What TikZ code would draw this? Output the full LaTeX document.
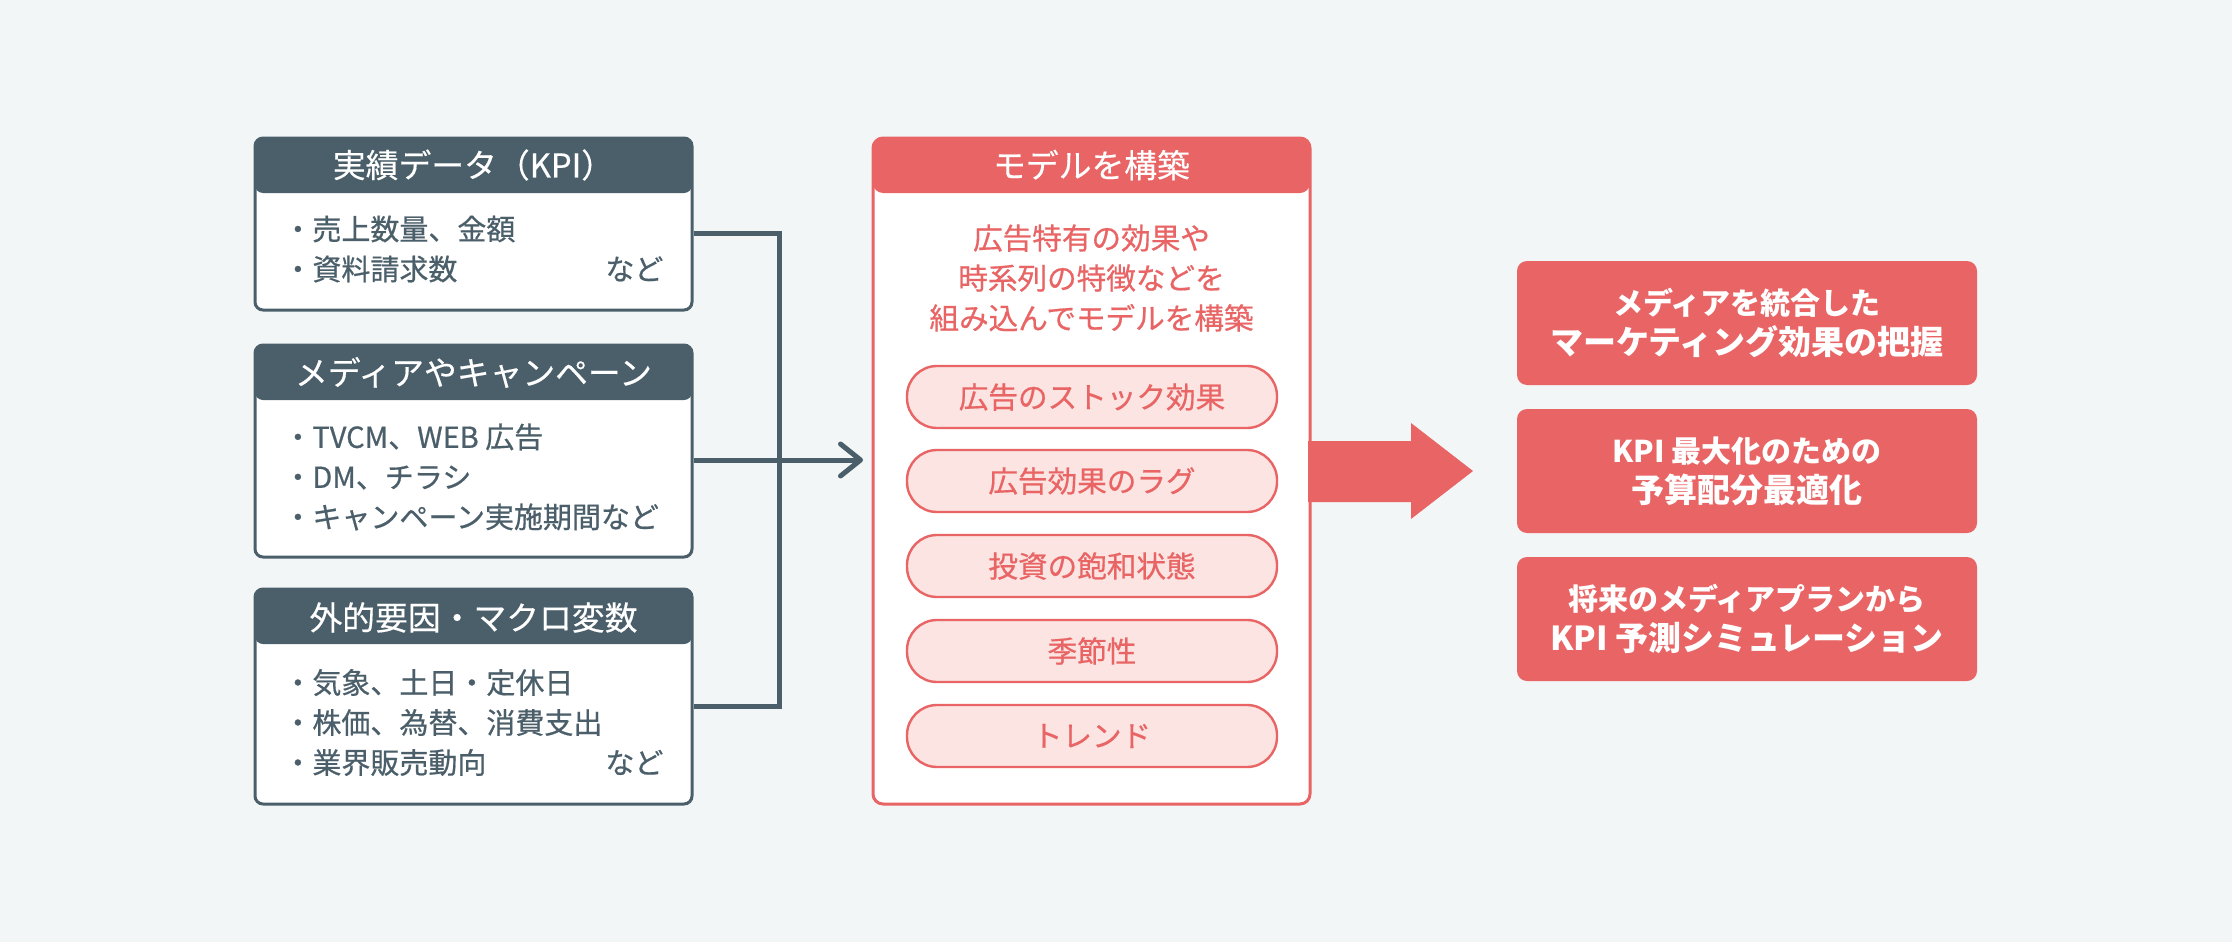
\documentclass[tikz,border=0pt]{standalone}
\usepackage{fontspec}
\setmainfont{Noto Sans CJK JP}
\newfontfamily\medfont{Noto Sans CJK JP}[FakeBold=0.6]
\newfontfamily\hdrfont{Noto Sans CJK JP}[FakeBold=0.4]
\usetikzlibrary{arrows.meta}
\definecolor{bgc}{HTML}{F3F6F7}
\definecolor{dk}{HTML}{4B5F6A}
\definecolor{rd}{HTML}{E96464}
\definecolor{pk}{HTML}{FBE4E1}
\newcommand{\bigline}[1]{{\fontsize{16.5pt}{20pt}\selectfont #1}}
\tikzset{
  hdrfill/.style={path picture={\fill[#1] (path picture bounding box.north west) rectangle ([yshift=-27.5pt]path picture bounding box.north east);}},
  lbox/.style={draw=dk, line width=1.5pt, fill=white, rounded corners=4pt, inner sep=0pt, hdrfill=dk},
  mbox/.style={draw=rd, line width=1.5pt, fill=white, rounded corners=5pt, inner sep=0pt, hdrfill=rd},
  hdrtext/.style={text=white, font=\hdrfont\fontsize{16.4pt}{20pt}\selectfont, inner sep=0pt},
  bodytext/.style={text=dk, font=\medfont\fontsize{14.5pt}{20pt}\selectfont, align=left, inner sep=0pt, anchor=west},
  redtext/.style={text=rd, font=\medfont\fontsize{14.8pt}{20pt}\selectfont, align=center, inner sep=0pt},
  pill/.style={draw=rd, line width=1.2pt, fill=pk, rounded corners=15pt, minimum width=185pt, minimum height=31pt, inner sep=0pt, text=rd, font=\medfont\fontsize{14.8pt}{20pt}\selectfont},
  rbox/.style={fill=rd, rounded corners=5pt, minimum width=230pt, minimum height=62pt, inner sep=0pt, text=white, align=center, font=\fontsize{15pt}{20pt}\selectfont\bfseries},
  conn/.style={draw=dk, line width=2.5pt, line join=miter}
}
\begin{document}
\begin{tikzpicture}[x=0.5pt,y=-0.5pt]
\fill[bgc] (0,0) rectangle (2232,942);
\useasboundingbox (0,0) rectangle (2232,942);
% left boxes
\node[lbox, minimum width=218.5pt, minimum height=86pt] (b1) at (473.5,224) {};
\node[lbox, minimum width=218.5pt, minimum height=106pt] (b2) at (473.5,451) {};
\node[lbox, minimum width=218.5pt, minimum height=107.5pt] (b3) at (473.5,696.5) {};
\node[hdrtext] (h1) at (473.5,165) {実績データ（KPI）};
\node[hdrtext] (h2) at (473.5,372.5) {メディアやキャンペーン};
\node[hdrtext] (h3) at (473.5,617.5) {外的要因・マクロ変数};
\node[bodytext] (t1) at (283,249) {・売上数量、金額\\\makebox[190pt][l]{・資料請求数\hfill など}};
\node[bodytext] (t2) at (283,477) {・TVCM、WEB 広告\\・DM、チラシ\\・キャンペーン実施期間など};
\node[bodytext] (t3) at (283,722.5) {・気象、土日・定休日\\・株価、為替、消費支出\\\makebox[190pt][l]{・業界販売動向\hfill など}};
% connectors
\coordinate (j1) at (779,233);
\coordinate (j2) at (779,460);
\coordinate (j3) at (779,706);
\coordinate (tip) at (863,460);
\draw[conn] (b1.east |- j1) -- (j1) -- (j3) -- (b3.east |- j3);
\draw[conn, -{Straight Barb[length=10pt, width=16pt, line cap=round, line join=round]}] (b2.east |- j2) -- (tip);
% middle box
\node[mbox, minimum width=218.5pt, minimum height=333pt] (m) at (1091.5,471) {};
\node[hdrtext] (mh) at (1091.5,165) {モデルを構築};
\node[redtext] (mt) at (1091.5,278) {広告特有の効果や\\時系列の特徴などを\\組み込んでモデルを構築};
\node[pill] (p1) at (1092,397) {広告のストック効果};
\node[pill] (p2) at (1092,481) {広告効果のラグ};
\node[pill] (p3) at (1092,566) {投資の飽和状態};
\node[pill] (p4) at (1092,651) {季節性};
\node[pill] (p5) at (1092,736) {トレンド};
% big arrow
\fill[rd] (1308,441) -- (1411,441) -- (1411,423) -- (1473,471) -- (1411,519) -- (1411,502) -- (1308,502) -- cycle;
% right boxes
\node[rbox] (r1) at (1747,323) {メディアを統合した\\\bigline{マーケティング効果の把握}};
\node[rbox] (r2) at (1747,471) {KPI 最大化のための\\\bigline{予算配分最適化}};
\node[rbox] (r3) at (1747,619) {将来のメディアプランから\\\bigline{KPI 予測シミュレーション}};
\end{tikzpicture}
\end{document}
